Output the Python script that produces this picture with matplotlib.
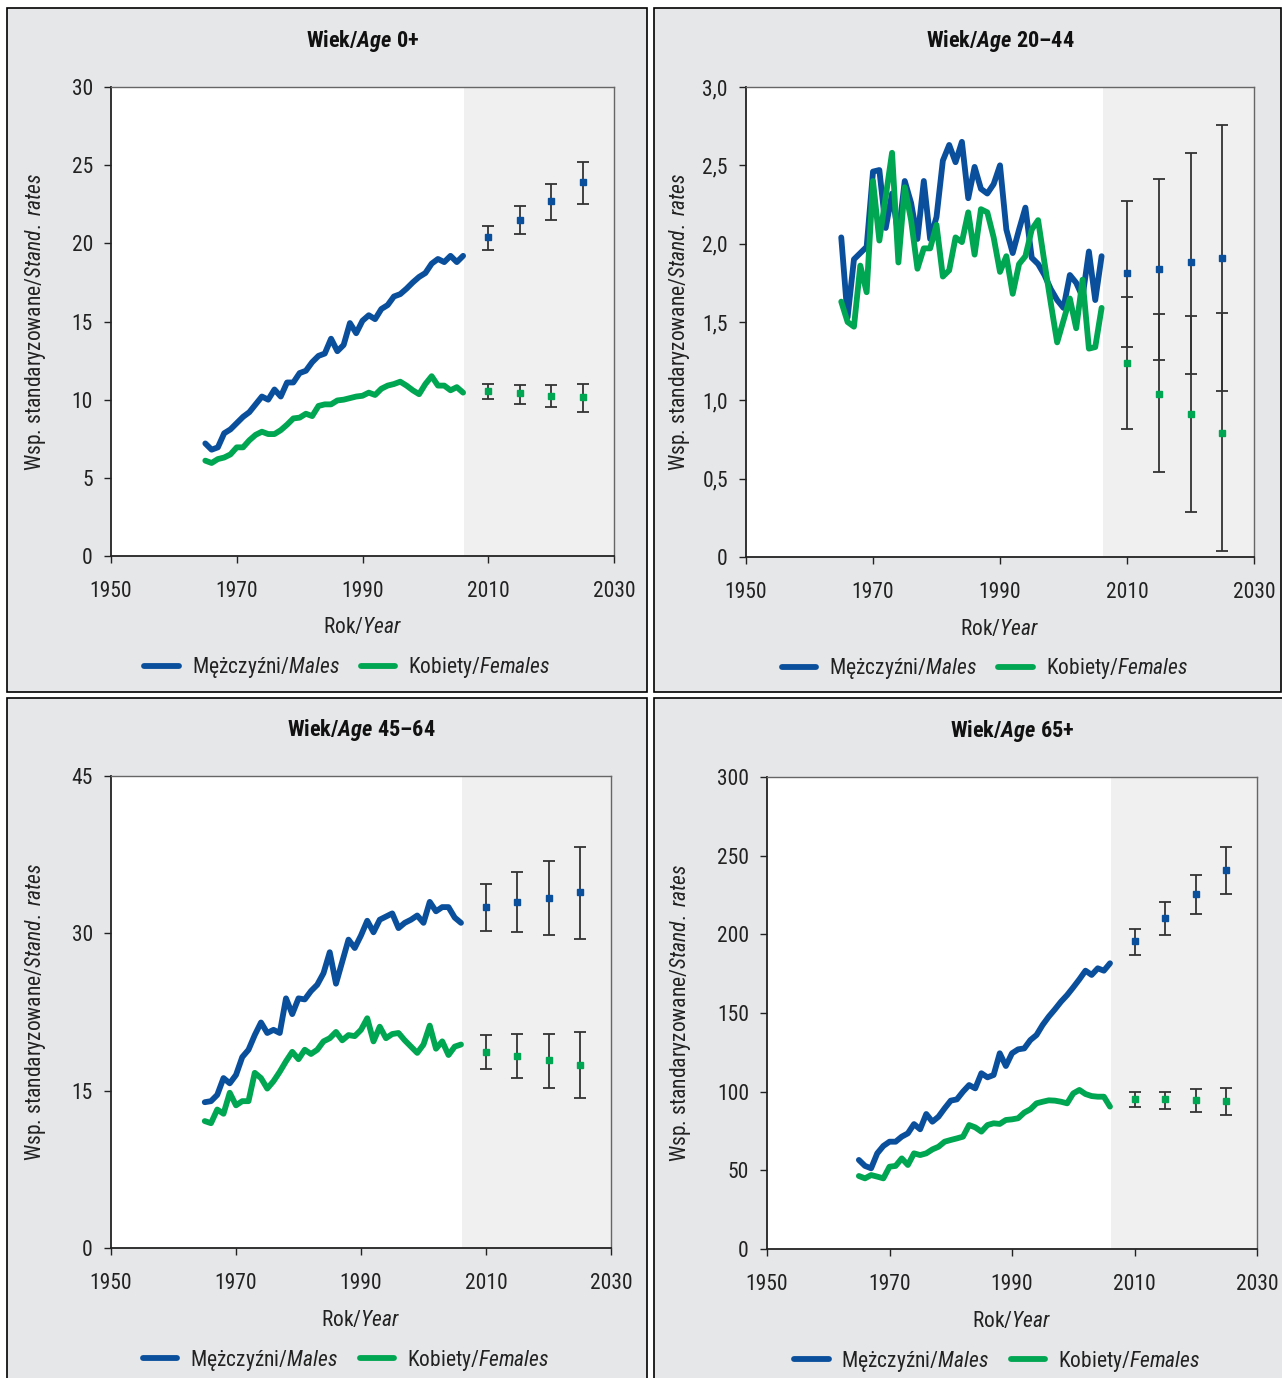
import numpy as np
import matplotlib
matplotlib.use('Agg')
import matplotlib.pyplot as plt
from matplotlib import font_manager
from matplotlib.patches import Rectangle

# fonts: pick the narrowest sans that is installed
installed = {f.name for f in font_manager.fontManager.ttflist}
FONT = 'DejaVu Sans'
for cand in ['Liberation Sans Narrow', 'Roboto Condensed', 'Open Sans Condensed',
             'Noto Sans Condensed', 'Liberation Sans', 'Roboto']:
    if cand in installed:
        FONT = cand
        break
plt.rcParams['font.family'] = [FONT, 'DejaVu Sans']
plt.rcParams['mathtext.fontset'] = 'custom'
plt.rcParams['mathtext.rm'] = FONT
plt.rcParams['mathtext.it'] = FONT + ':italic'
plt.rcParams['mathtext.bf'] = FONT + ':bold'
plt.rcParams['mathtext.bfit'] = FONT + ':italic:bold'

# ---- data ----
years = list(range(1965, 2007))
fc_years = [2010, 2015, 2020, 2025]

# Age 0+
m_0 = [7.2, 6.8, 6.95, 7.85, 8.1, 8.5, 8.9, 9.2, 9.7, 10.2, 10.0, 10.65, 10.2, 11.1, 11.1,
       11.7, 11.85, 12.4, 12.8, 12.95, 13.9, 13.1, 13.5, 14.9, 14.25, 15.05, 15.4, 15.15,
       15.8, 16.05, 16.6, 16.75, 17.1, 17.5, 17.85, 18.1, 18.7, 19.0, 18.8, 19.2, 18.8, 19.2]
f_0 = [6.1, 5.95, 6.2, 6.3, 6.5, 6.95, 6.95, 7.4, 7.75, 7.95, 7.8, 7.8, 8.05, 8.4, 8.8,
       8.85, 9.1, 8.95, 9.6, 9.7, 9.7, 9.95, 10.0, 10.1, 10.2, 10.25, 10.45, 10.3, 10.7,
       10.9, 11.0, 11.15, 10.9, 10.6, 10.35, 11.0, 11.5, 10.9, 10.9, 10.6, 10.8, 10.45]
m_0_fc = [20.4, 21.5, 22.7, 23.9]
m_0_lo = [19.6, 20.6, 21.5, 22.5]
m_0_hi = [21.1, 22.4, 23.8, 25.2]
f_0_fc = [10.55, 10.4, 10.25, 10.15]
f_0_lo = [10.05, 9.75, 9.5, 9.2]
f_0_hi = [11.0, 10.95, 10.95, 11.0]

# Age 20-44
m_20 = [2.04, 1.53, 1.90, 1.94, 1.98, 2.46, 2.47, 2.10, 2.32, 2.05, 2.40, 2.26, 2.03, 2.40,
        2.03, 2.17, 2.53, 2.63, 2.52, 2.65, 2.29, 2.49, 2.35, 2.32, 2.38, 2.50, 2.09, 1.94,
        2.09, 2.23, 1.91, 1.87, 1.80, 1.71, 1.64, 1.59, 1.80, 1.75, 1.66, 1.95, 1.64, 1.92]
f_20 = [1.63, 1.50, 1.47, 1.86, 1.69, 2.40, 2.02, 2.30, 2.58, 1.88, 2.36, 2.15, 1.84, 1.97,
        1.97, 2.12, 1.79, 1.83, 2.04, 2.01, 2.20, 1.93, 2.22, 2.20, 2.04, 1.82, 1.92, 1.68,
        1.87, 1.92, 2.09, 2.15, 1.88, 1.62, 1.37, 1.51, 1.65, 1.46, 1.77, 1.33, 1.34, 1.59]
m_20_fc = [1.81, 1.84, 1.88, 1.91]
m_20_lo = [1.34, 1.26, 1.17, 1.06]
m_20_hi = [2.27, 2.41, 2.58, 2.76]
f_20_fc = [1.24, 1.04, 0.91, 0.79]
f_20_lo = [0.82, 0.54, 0.29, 0.04]
f_20_hi = [1.66, 1.55, 1.54, 1.56]

# Age 45-64
m_45 = [13.9, 14.0, 14.6, 16.2, 15.7, 16.5, 18.2, 18.9, 20.3, 21.5, 20.5, 20.8, 20.5, 23.8,
        22.3, 23.8, 23.7, 24.5, 25.1, 26.2, 28.2, 25.2, 27.3, 29.4, 28.6, 29.8, 31.2, 30.1,
        31.3, 31.6, 31.9, 30.5, 31.0, 31.3, 31.7, 31.0, 33.0, 32.1, 32.5, 32.5, 31.5, 31.0]
f_45 = [12.1, 11.9, 13.2, 12.8, 14.8, 13.6, 14.0, 14.0, 16.7, 16.2, 15.2, 15.9, 16.8, 17.8,
        18.7, 18.0, 18.9, 18.5, 18.9, 19.7, 20.0, 20.6, 19.8, 20.3, 20.2, 20.8, 21.9, 19.7,
        21.1, 20.0, 20.4, 20.5, 19.8, 19.2, 18.6, 19.4, 21.2, 19.0, 19.7, 18.4, 19.2, 19.4]
m_45_fc = [32.5, 33.0, 33.4, 33.9]
m_45_lo = [30.2, 30.1, 29.8, 29.5]
m_45_hi = [34.7, 35.8, 36.9, 38.2]
f_45_fc = [18.7, 18.3, 17.9, 17.4]
f_45_lo = [17.1, 16.2, 15.3, 14.3]
f_45_hi = [20.3, 20.4, 20.4, 20.6]

# Age 65+
m_65 = [56.6, 52.8, 51.3, 60.8, 65.5, 68.2, 68.2, 71.4, 73.5, 79.4, 76.1, 85.8, 80.9, 84.1,
        89.4, 94.3, 95.1, 100.0, 104.2, 102.1, 111.7, 109.1, 110.6, 124.4, 116.3, 124.4,
        126.9, 127.5, 132.8, 136.0, 142.4, 147.7, 152.3, 157.2, 161.4, 166.3, 171.4, 176.9,
        174.2, 178.4, 176.9, 181.6]
f_65 = [46.4, 44.9, 47.0, 46.0, 44.9, 52.3, 52.8, 57.6, 53.4, 60.8, 59.7, 60.8, 63.3, 65.0,
        68.2, 69.3, 70.3, 71.4, 78.8, 77.3, 74.6, 78.8, 79.9, 79.5, 82.0, 82.4, 83.1, 86.7,
        88.8, 92.6, 93.6, 94.5, 94.3, 93.6, 92.6, 98.9, 101.1, 98.5, 97.2, 96.8, 96.8, 90.5]
m_65_fc = [195.8, 210.6, 225.9, 240.9]
m_65_lo = [186.9, 199.8, 212.9, 225.4]
m_65_hi = [203.6, 220.6, 237.9, 255.5]
f_65_fc = [95.6, 95.1, 94.7, 94.3]
f_65_lo = [90.3, 89.0, 87.1, 85.4]
f_65_hi = [99.6, 100.0, 101.5, 102.5]

titles = [r'Wiek/$\mathbfit{Age}$ 0+', r'Wiek/$\mathbfit{Age}$ 20–44',
          r'Wiek/$\mathbfit{Age}$ 45–64', r'Wiek/$\mathbfit{Age}$ 65+']
yticks_0 = [0, 5, 10, 15, 20, 25, 30]
yticks_20 = [0, 0.5, 1.0, 1.5, 2.0, 2.5, 3.0]
ylabels_20 = ['0', '0,5', '1,0', '1,5', '2,0', '2,5', '3,0']
yticks_45 = [0, 15, 30, 45]
yticks_65 = [0, 50, 100, 150, 200, 250, 300]
xticks = [1950, 1970, 1990, 2010, 2030]

BLUE = '#0a4f9c'
GREEN = '#00a651'
PANEL = '#e6e7e9'
SHADE = '#f0f0f0'
FS = 15.5

W, H = 1282, 1378
fig = plt.figure(figsize=(W / 100, H / 100), dpi=100)


def px_rect(x0, y0, x1, y1):
    # pixel box (top-left origin) -> figure fractions
    return [x0 / W, 1 - y1 / H, (x1 - x0) / W, (y1 - y0) / H]


def draw_panel(box, axbox, title, m, f, mfc, mlo, mhi, ffc, flo, fhi,
               ymax, yticks, ylabels, ylab_x):
    # gray panel with black frame
    r = px_rect(*box)
    fig.add_artist(Rectangle((r[0], r[1]), r[2], r[3], transform=fig.transFigure,
                             facecolor=PANEL, edgecolor='black', linewidth=1.2, zorder=-5))
    ax = fig.add_axes(px_rect(*axbox))
    ax.set_facecolor('white')
    ax.axvspan(2006.2, 2030, color=SHADE, lw=0, zorder=0)

    ax.plot(years, m, color=BLUE, lw=4.2, solid_capstyle='round', solid_joinstyle='round',
            zorder=3, label=r'Mężczyźni/$\mathit{Males}$')
    ax.plot(years, f, color=GREEN, lw=4.2, solid_capstyle='round', solid_joinstyle='round',
            zorder=3, label=r'Kobiety/$\mathit{Females}$')

    for fc, lo, hi, c in [(mfc, mlo, mhi, BLUE), (ffc, flo, fhi, GREEN)]:
        fc = np.array(fc)
        err = [fc - np.array(lo), np.array(hi) - fc]
        ax.errorbar(fc_years, fc, yerr=err, fmt='none', ecolor='#333333', elinewidth=1.3,
                    capsize=4, capthick=1.3, zorder=4)
        ax.plot(fc_years, fc, 's', color=c, ms=4.5, zorder=5)

    ax.set_xlim(1950, 2030)
    ax.set_ylim(0, ymax)
    ax.set_xticks(xticks)
    ax.set_yticks(yticks)
    if ylabels is not None:
        ax.set_yticklabels(ylabels)
    ax.tick_params(direction='out', length=5, width=1, labelsize=FS, pad=8,
                   colors='#222222')
    ax.tick_params(axis='x', pad=13)
    for s in ['left', 'bottom']:
        ax.spines[s].set_color('#222222')
        ax.spines[s].set_linewidth(1.3)
    for s in ['top', 'right']:
        ax.spines[s].set_color('#666666')
        ax.spines[s].set_linewidth(1.0)

    ax.set_xlabel(r'Rok/$\mathit{Year}$', fontsize=FS, color='#222222')
    ax.xaxis.set_label_coords(0.5, -0.131)
    ax.set_ylabel(r'Wsp. standaryzowane/$\mathit{Stand.\ rates}$', fontsize=FS,
                  color='#222222')
    ax.yaxis.set_label_coords(ylab_x, 0.5)
    ax.text(0.5, 1.098, title, transform=ax.transAxes, ha='center', va='center',
            fontsize=FS + 0.5, fontweight='bold', color='#111111')

    ax.legend(loc='center', bbox_to_anchor=(0.47, -0.238), ncol=2, frameon=False,
              fontsize=FS, handlelength=1.6, handletextpad=0.6, columnspacing=1.0,
              labelcolor='#222222')
    return ax


draw_panel((7, 8, 647, 692), (111, 87, 614, 556), titles[0], m_0, f_0,
           m_0_fc, m_0_lo, m_0_hi, f_0_fc, f_0_lo, f_0_hi, 30, yticks_0, None, -0.126)
draw_panel((654, 8, 1281, 692), (746, 87, 1254, 557), titles[1], m_20, f_20,
           m_20_fc, m_20_lo, m_20_hi, f_20_fc, f_20_lo, f_20_hi, 3.0, yticks_20, ylabels_20,
           -0.107)
draw_panel((7, 698, 647, 1382), (111, 776, 611, 1248), titles[2], m_45, f_45,
           m_45_fc, m_45_lo, m_45_hi, f_45_fc, f_45_lo, f_45_hi, 45, yticks_45, None, -0.127)
draw_panel((654, 698, 1284, 1382), (767, 777, 1257, 1249), titles[3], m_65, f_65,
           m_65_fc, m_65_lo, m_65_hi, f_65_fc, f_65_lo, f_65_hi, 300, yticks_65, None, -0.152)

fig.savefig('out.png', dpi=100)
